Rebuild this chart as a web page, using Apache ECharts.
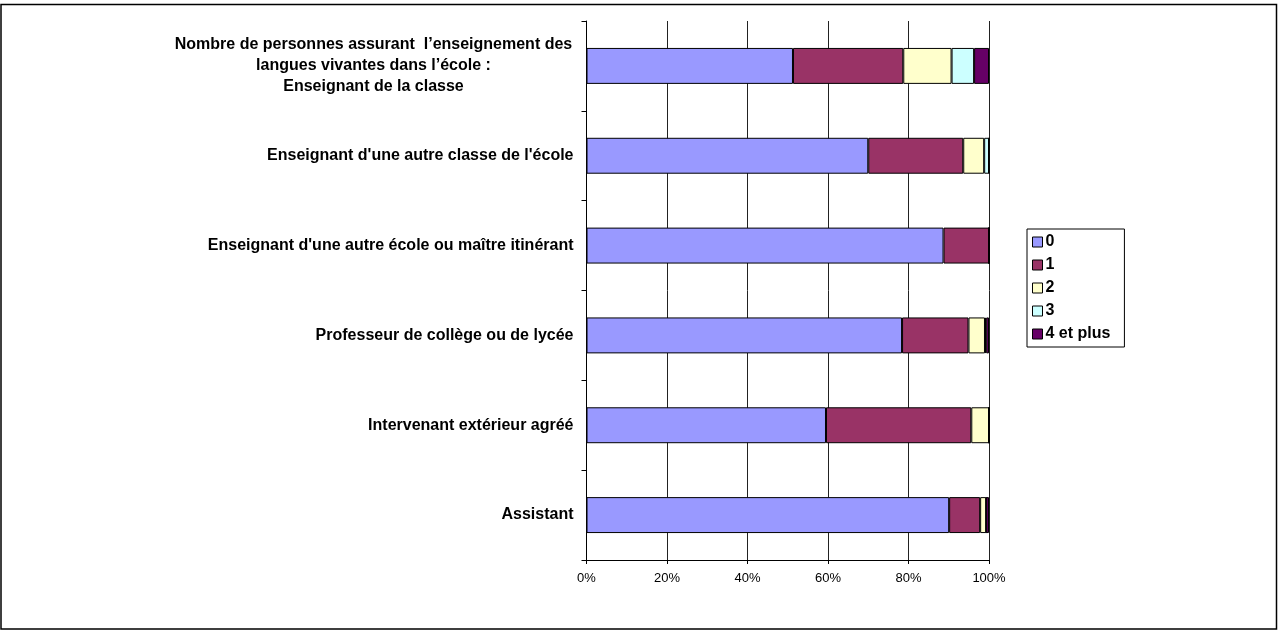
<!DOCTYPE html>
<html>
<head>
<meta charset="utf-8">
<script src="https://cdn.jsdelivr.net/npm/echarts@6/dist/echarts.min.js"></script>
<style>
html,body{margin:0;padding:0;background:#fff;}
#chart{width:1278px;height:631px;}
</style>
</head>
<body>
<div id="chart"></div>
<script>
const categories = [
  "Nombre de personnes assurant  l\u2019enseignement des\nlangues vivantes dans l\u2019école :\nEnseignant de la classe",
  "Enseignant d'une autre classe de l'école",
  "Enseignant d'une autre école ou maître itinérant",
  "Professeur de collège ou de lycée",
  "Intervenant extérieur agréé",
  "Assistant"
];
const seriesNames = ["0", "1", "2", "3", "4 et plus"];
const s0 = [51.3, 70.0, 88.7, 78.4, 59.5, 90.1];
const s1 = [27.4, 23.6, 11.3, 16.5, 36.1, 7.7];
const s2 = [12.0, 5.2, 0, 4.1, 4.4, 1.5];
const s3 = [5.6, 1.2, 0, 0.3, 0, 0];
const s4 = [3.7, 0, 0, 0.7, 0, 0.7];
const xTicks = ["0%", "20%", "40%", "60%", "80%", "100%"];
const colors = ["#9999FF", "#993366", "#FFFFCC", "#CCFFFF", "#660066"];

const allValues = [s0, s1, s2, s3, s4];
const chart = echarts.init(document.getElementById('chart'));
const FONT = "'Liberation Sans', Arial, sans-serif";

chart.setOption({
  animation: false,
  backgroundColor: '#fff',
  textStyle: { fontFamily: FONT },
  graphic: [{
    type: 'rect',
    shape: { x: 1, y: 4.5, width: 1275.5, height: 624.5 },
    style: { fill: 'none', stroke: '#000', lineWidth: 1.5 },
    silent: true
  }],
  grid: { left: 586.5, right: 289, top: 21, bottom: 71, containLabel: false },
  legend: {
    orient: 'vertical',
    left: 1027,
    top: 229,
    padding: [5, 14, 5, 5],
    itemGap: 7,
    itemWidth: 10,
    itemHeight: 10,
    borderColor: '#000',
    borderWidth: 1,
    icon: 'rect',
    itemStyle: { borderColor: '#000', borderWidth: 1 },
    textStyle: { fontFamily: FONT, fontSize: 16, fontWeight: 'bold', color: '#000', padding: [0, 0, 0, -2] },
    data: seriesNames
  },
  xAxis: {
    type: 'value',
    min: 0, max: 100, interval: 20,
    axisLine: { show: true, lineStyle: { color: '#000', width: 1 } },
    axisTick: { show: true, length: 4, lineStyle: { color: '#000' } },
    splitLine: { show: true, lineStyle: { color: '#222', width: 1 } },
    axisLabel: {
      margin: 12,
      fontFamily: FONT, fontSize: 13, color: '#000',
      formatter: function (v) { return xTicks[Math.round(v / 20)]; }
    }
  },
  yAxis: {
    type: 'category',
    inverse: true,
    data: categories,
    axisLine: { show: true, lineStyle: { color: '#000', width: 1 } },
    axisTick: { show: true, length: 5, inside: false, lineStyle: { color: '#000' } },
    splitLine: { show: false },
    axisLabel: {
      margin: 13,
      fontFamily: FONT, fontSize: 16, fontWeight: 'bold', color: '#000',
      lineHeight: 21,
      formatter: function (v) {
        if (v.indexOf('\n') >= 0) {
          return v.split('\n').map(function (l) { return '{c|' + l + '}'; }).join('\n');
        }
        return v;
      },
      rich: {
        c: { width: 400, align: 'center', fontFamily: FONT, fontSize: 16, fontWeight: 'bold', color: '#000', lineHeight: 21 }
      }
    }
  },
  series: seriesNames.map(function (name, i) {
    return {
      name: name,
      type: 'bar',
      stack: 'total',
      barWidth: '40%',
      itemStyle: { color: colors[i], borderColor: '#000', borderWidth: 1 },
      data: allValues[i]
    };
  })
});
</script>
</body>
</html>
